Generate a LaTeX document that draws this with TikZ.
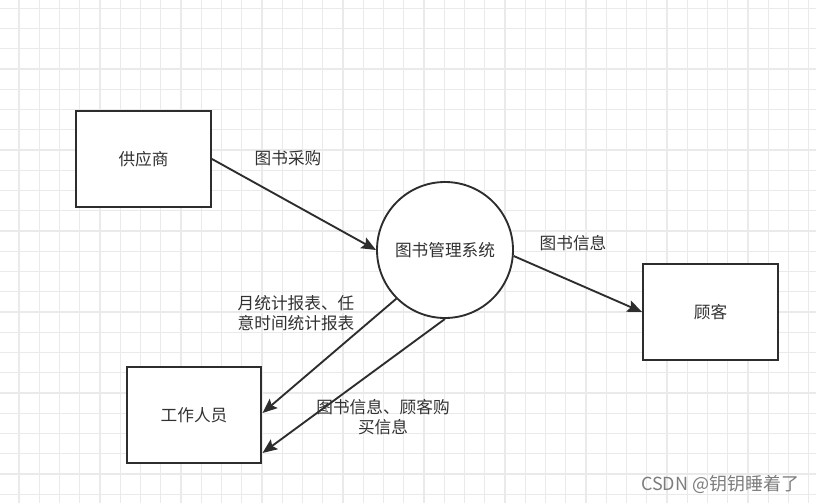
\documentclass[tikz,border=0pt]{standalone}
\usepackage{fontspec}
\setmainfont{Noto Sans CJK SC}
\usepackage{tikz}
\usetikzlibrary{arrows.meta,positioning,calc}
\usepackage{xcolor}
\definecolor{gridgray}{RGB}{234,234,234}
\definecolor{linedark}{RGB}{45,45,45}
\definecolor{textdark}{RGB}{50,50,50}
\definecolor{markgray}{RGB}{125,125,125}

\begin{document}
\begin{tikzpicture}[
    x=0.75pt, y=-0.75pt,
    entity/.style={rectangle, draw=linedark, line width=1.7pt, fill=white,
                minimum width=101pt, minimum height=72pt, font=\fontsize{12.5}{15}\selectfont, text=textdark},
    process/.style={circle, draw=linedark, line width=1.4pt, fill=white,
                minimum size=102pt, inner sep=0pt, font=\fontsize{12.5}{15}\selectfont, text=textdark},
    flow/.style={-{Stealth[length=11pt,width=9pt,inset=2pt]}, line width=1.4pt, color=linedark},
    flowlabel/.style={font=\fontsize{12.5}{15}\selectfont, text=textdark, align=center, inner sep=1pt}
]

% background grid
\useasboundingbox (0,0) rectangle (816,503);
\fill[white] (0,0) rectangle (816,503);
\foreach \i in {0,...,41}
    \draw[gridgray, line width=0.8pt] ({-1.25+20.25*\i},0) -- ++(0,503);
\foreach \j in {0,...,24}
    \draw[gridgray, line width=0.8pt] (0,{8.25+20.25*\j}) -- ++(816,0);

% entities and process
\node[entity] (supplier) at (143.5, 159) {供应商};
\node[process] (system) at (445, 250) {图书管理系统};
\node[entity] (customer) at (710.5, 312) {顾客};
\node[entity] (staff) at (194, 415) {工作人员};

% data flows
\draw[flow] (supplier.east) -- (system.west);
\draw[flow] (system.-5) -- (customer.west);
\draw[flow] (system.225) -- ($(staff.east)+(0,-2)$);
\draw[flow] (system.south) -- ($(staff.east)+(0,38)$);

% flow labels
\node[flowlabel] (lbuy) at (288, 158) {图书采购};
\node[flowlabel] (linfo) at (573, 243) {图书信息};
\node[flowlabel] (lreport) at (296, 313) {月统计报表、任\\意时间统计报表};
\node[flowlabel] (lcust) at (383, 417) {图书信息、顾客购\\买信息};

% watermark
\node[font=\fontsize{13.5}{16}\selectfont, text=markgray, anchor=east] (mark) at (804, 484) {CSDN @钥钥睡着了};

\end{tikzpicture}
\end{document}
